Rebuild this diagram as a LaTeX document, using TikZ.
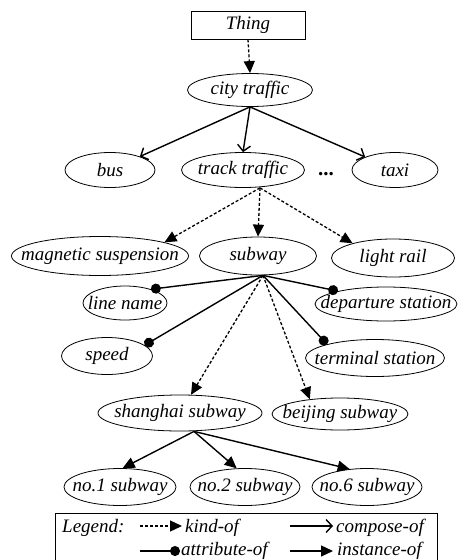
\documentclass[tikz,border=0pt]{standalone}
\usepackage{fontspec}
\setmainfont{Liberation Serif}
\usetikzlibrary{
  arrows.meta,
  shapes.geometric,
  positioning
}
\newcommand{\lbl}[1]{\makebox[0pt]{#1}}
\tikzset{
  concept/.style={
    draw, ellipse, inner sep=0pt, line width=0.8pt,
    font=\fontsize{19}{22}\selectfont\itshape
  },
  thingbox/.style={draw, rectangle, inner sep=0pt, line width=0.8pt,
    minimum width=114pt, minimum height=28pt, font=\fontsize{19}{22}\selectfont\itshape},
  legtext/.style={anchor=base west, inner sep=0pt, font=\fontsize{19}{22}\selectfont\itshape},
  kindof/.style={-{Triangle[length=12pt,width=11pt]}, line width=1.3pt, dash pattern=on 3pt off 2pt},
  composeof/.style={-{Straight Barb[length=6pt,width=13pt]}, line width=1.4pt},
  attrof/.style={-{Circle[length=10pt]}, line width=1.4pt},
  instof/.style={-{Triangle[length=12pt,width=11pt]}, line width=1.4pt}
}
\begin{document}
\begin{tikzpicture}[x=1pt, y=-1pt]
  \useasboundingbox (0,0) rectangle (459,560);
  \node[thingbox] (thing) at (248,25) {\lbl{Thing}};
  \node[concept, minimum width=125pt, minimum height=33pt] (city) at (250,90) {\lbl{city traffic}};
  % second level
  \node[concept, minimum width=90pt, minimum height=35pt] (bus) at (110,170) {\lbl{bus}};
  \node[concept, minimum width=123pt, minimum height=35pt] (track) at (243,170) {\lbl{track traffic}};
  \node[concept, minimum width=86pt, minimum height=35pt] (taxi) at (395,170) {\lbl{taxi}};
  \node[anchor=base, inner sep=0pt, font=\fontsize{21}{22}\selectfont\bfseries] (more) at (326,175.5) {...};
  % track traffic kinds
  \node[concept, minimum width=177pt, minimum height=39pt] (mag) at (100,256) {\lbl{magnetic suspension}};
  \node[concept, minimum width=117pt, minimum height=38pt] (subway) at (258,256) {\lbl{subway}};
  \node[concept, minimum width=123pt, minimum height=38pt] (light) at (393,258) {\lbl{light rail}};
  % attributes
  \node[concept, minimum width=84pt, minimum height=34pt] (lname) at (125,303) {\lbl{line name}};
  \node[concept, minimum width=142pt, minimum height=34pt] (depart) at (386,304) {\lbl{departure station}};
  \node[concept, minimum width=91pt, minimum height=37pt] (speed) at (107,356) {\lbl{speed}};
  \node[concept, minimum width=139pt, minimum height=37pt] (term) at (375,358) {\lbl{terminal station}};
  % subways
  \node[concept, minimum width=164pt, minimum height=36pt] (shanghai) at (180,413) {\lbl{shanghai subway}};
  \node[concept, minimum width=136pt, minimum height=32pt] (beijing) at (340,414) {\lbl{beijing subway}};
  \node[concept, minimum width=112pt, minimum height=37pt] (no1) at (120,487) {\lbl{no.1 subway}};
  \node[concept, minimum width=110pt, minimum height=37pt] (no2) at (245,487) {\lbl{no.2 subway}};
  \node[concept, minimum width=110pt, minimum height=37pt] (no6) at (367,487) {\lbl{no.6 subway}};

  \draw[kindof] (thing.south) -- (city.north);
  \draw[composeof] (city.south) -- (bus);
  \draw[composeof] (city.south) -- (track.north);
  \draw[composeof] (city.south) -- (taxi);
  \draw[kindof] ([xshift=17pt]track.south) -- (mag.12);
  \draw[kindof] ([xshift=17pt]track.south) -- (subway.north);
  \draw[kindof] ([xshift=17pt]track.south) -- (light.160);
  \draw[attrof] ([xshift=5pt]subway.south) -- (lname.28);
  \draw[attrof] ([xshift=5pt]subway.south) -- (depart.165);
  \draw[attrof] ([xshift=5pt]subway.south) -- (speed.16);
  \draw[attrof] ([xshift=5pt]subway.south) -- (term.164);
  \draw[kindof] ([xshift=5pt]subway.south) -- (shanghai);
  \draw[kindof] ([xshift=5pt]subway.south) -- (beijing.154);
  \draw[instof] ([xshift=14pt]shanghai.south) -- (no1.82);
  \draw[instof] ([xshift=14pt]shanghai.south) -- (no2.114);
  \draw[instof] ([xshift=14pt]shanghai.south) -- (no6.134);

  % legend
  \node[draw, line width=0.8pt, anchor=north west, minimum width=382pt, minimum height=49pt] (legend) at (55,513) {};
  \node[legtext] (legtitle) at (62,532) {Legend:};
  \coordinate (k1) at (140,526);
  \coordinate (k2) at (182,526);
  \coordinate (c1) at (290,526);
  \coordinate (c2) at (333,526);
  \coordinate (a1) at (140,551);
  \coordinate (a2) at (180,551);
  \coordinate (i1) at (290,551);
  \coordinate (i2) at (333,551);
  \draw[kindof] (k1) -- (k2);
  \draw[composeof] (c1) -- (c2);
  \draw[attrof] (a1) -- (a2);
  \draw[instof] (i1) -- (i2);
  \node[legtext] (lkind) at (185,532) {kind-of};
  \node[legtext] (lcomp) at (336,532) {compose-of};
  \node[legtext] (lattr) at (181,555.5) {attribute-of};
  \node[legtext] (linst) at (337,555.5) {instance-of};
\end{tikzpicture}
\end{document}
